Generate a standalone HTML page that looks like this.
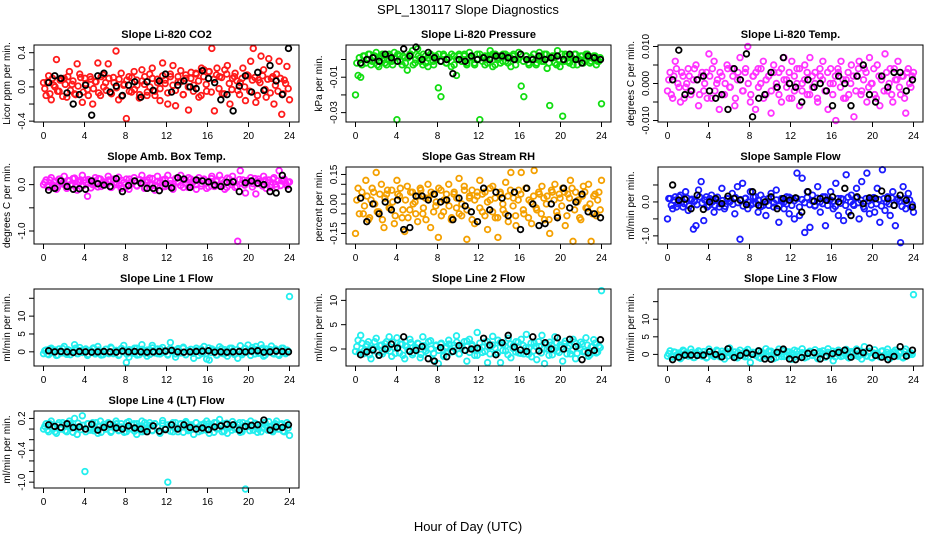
<!DOCTYPE html>
<html><head><meta charset="utf-8"><style>
html,body{margin:0;padding:0;background:#fff;}
svg{display:block;font-family:"Liberation Sans",sans-serif;}
</style></head><body>
<svg id="chart" width="936" height="540" viewBox="0 0 936 540">
<text x="468" y="14" font-size="13" text-anchor="middle">SPL_130117  Slope Diagnostics</text>
<text x="468" y="531" font-size="13" text-anchor="middle">Hour of Day (UTC)</text>
</svg>
<script>
const xTicks=[0,4,8,12,16,20,24];
const co2Vals=[0.05,-0.1,0.13,-0.15,0.02,0.32,-0.05,0.08,0.1,-0.12,0.18,0.03,-0.08,0.27,0.15,-0.18,0.1,-0.03,0.12,-0.2,0.06,0.28,-0.1,0.14,0.05,0.27,-0.07,0.11,0.42,-0.15,0.16,0.02,-0.37,0.12,-0.06,0.18,0.08,-0.13,0.2,0.03,-0.1,0.15,0.22,-0.05,0.09,-0.16,0.28,0.04,-0.2,0.12,0.25,-0.22,0.06,0.19,-0.09,0.1,-0.27,0.17,0.02,0.15,-0.12,0.22,0.2,-0.05,0.18,0.45,-0.28,0.22,0.12,-0.08,0.2,0.25,-0.2,0.1,0.16,-0.04,0.05,0.22,-0.16,0.13,0.3,0.45,-0.18,0.08,0.36,0.2,-0.12,0.33,0.1,-0.2,0.15,0.3,-0.32,0.08,0.24,-0.15];
const co2Core=[-0.02,0.06,-0.08,0.1,0.0,-0.05,0.08,-0.11,0.03,0.12,-0.04,0.07,-0.09,0.01,0.11,-0.06,0.04,-0.1,0.09,-0.02,0.06,-0.07,0.12,0.0,-0.04,0.1,-0.08,0.05,-0.01,0.09,-0.11,0.03,0.08,-0.05,0.11,-0.03,0.02,-0.09,0.07,0.12,-0.06,0.0,0.1,-0.1,0.05,-0.02,0.13,0.08,-0.07,0.15,0.02,-0.04,0.12,0.06,-0.09,0.14,0.0,0.1,-0.05,0.16,0.07,-0.1,0.12,0.03,0.18,-0.06,0.09,0.14,-0.02,0.11,-0.08,0.15,0.04,-0.03,0.12,0.07,-0.09,0.1,0.0,0.14,-0.05,0.08,0.11,-0.1,0.05,0.13,-0.03,0.09,-0.07,0.12,0.02,-0.05,0.1,-0.08,0.04,-0.02];
const co2Black=[0.05,0.13,0.1,-0.07,-0.2,-0.09,0.02,-0.33,0.13,0.16,-0.06,0.01,-0.1,0.02,0.06,-0.12,0.06,-0.04,0.07,0.15,-0.06,0.02,0.07,0,-0.02,0.19,0.1,0.05,-0.15,-0.09,-0.28,0.01,0.13,-0.06,0.17,-0.04,0.25,0.07,-0.09,0.45];
const presVals=[-0.02,-0.009,-0.01,0.002,-0.002,0.003,-0.003,0.001,0.004,-0.004,0.002,0.0,-0.003,0.003,-0.001,0.004,-0.034,0.002,-0.003,0.001,-0.006,0.003,0.005,-0.002,0.006,0.001,-0.003,0.002,-0.004,0.003,-0.001,0.002,-0.016,-0.021,0.003,-0.002,0.001,-0.004,0.002,-0.009,0.003,-0.001,0.002,-0.003,0.004,0.001,-0.002,0.003,-0.034,0.001,-0.003,0.002,0.005,-0.004,0.003,0.001,-0.002,0.003,-0.001,0.002,-0.004,0.003,0.0,0.004,-0.015,-0.021,0.002,-0.003,0.001,0.003,-0.002,0.004,-0.001,0.003,-0.005,-0.026,0.002,-0.002,0.005,-0.004,-0.032,0.003,-0.001,0.002,-0.003,0.003,0.0,0.002,-0.002,0.003,0.001,-0.001,0.002,-0.003,-0.001,-0.025];
const presCore=[-0.002,0.001,-0.003,0.002,0.0,0.003,-0.001,0.002,-0.003,0.001,0.003,-0.002,0.0,0.002,-0.003,0.001,0.003,-0.001,0.002,-0.002,0.001,0.003,-0.003,0.0,0.002,-0.001,0.003,-0.002,0.001,0.002,-0.003,0.0,0.003,-0.001,0.002,-0.002,0.001,0.003,-0.003,0.0,0.002,-0.001,0.003,-0.002,0.001,0.002,-0.003,0.0,0.003,-0.001,0.002,-0.002,0.001,0.003,-0.003,0.0,0.002,-0.001,0.003,-0.002,0.001,0.002,-0.003,0.0,0.003,-0.001,0.002,-0.002,0.001,0.003,-0.003,0.0,0.002,-0.001,0.003,-0.002,0.001,0.002,-0.003,0.0,0.003,-0.001,0.002,-0.002,0.001,0.003,-0.003,0.0,0.002,-0.001,0.003,-0.002,0.001,0.002,-0.001,0.001];
const presBlack=[-0.002,0.0,0.001,-0.001,0.003,0.001,-0.001,0.006,0.002,0.007,0.0,0.004,0.001,-0.001,0.0,-0.008,0.0,-0.001,0.002,0.0,0.001,0.0,0.002,0.002,0.001,0.0,0.003,0.0,0.0,0.002,0.0,0.001,0.002,0.0,0.003,0.0,-0.002,0.002,0.001,0.0];
const tempVals=[-0.002,0.003,-0.004,0.006,0.0,-0.005,0.002,-0.001,0.004,-0.003,0.001,0.005,-0.006,0.002,-0.002,0.003,0.008,-0.004,0.006,0.0,-0.007,0.002,-0.003,0.005,-0.001,0.004,-0.006,0.001,0.007,-0.002,0.003,0.01,-0.005,0.002,-0.007,0.004,0.0,0.006,-0.003,0.002,-0.008,0.005,-0.001,0.003,-0.005,0.007,0.001,-0.004,0.006,-0.002,0.004,-0.006,0.0,0.005,-0.003,0.007,-0.001,0.003,-0.005,0.002,0.006,-0.002,-0.007,0.004,0.0,-0.01,0.003,0.006,-0.004,0.001,-0.003,0.005,-0.009,0.002,0.006,-0.002,0.004,-0.005,0.007,0.0,-0.003,0.005,-0.006,0.002,0.008,-0.002,0.004,-0.005,0.001,0.006,-0.003,0.002,-0.008,0.004,-0.001,0.003];
const tempCore=[0.001,-0.003,0.002,0.004,-0.001,0.003,-0.004,0.0,0.002,-0.002,0.004,0.001,-0.003,0.003,0.0,-0.004,0.002,0.004,-0.002,0.001,0.003,-0.003,0.0,0.004,-0.001,0.002,-0.004,0.003,0.001,-0.002,0.004,0.0,-0.003,0.002,0.003,-0.001,0.004,-0.004,0.001,0.002,-0.002,0.003,0.0,-0.003,0.004,0.001,-0.001,0.003,-0.004,0.002,0.0,0.004,-0.002,0.001,0.003,-0.003,0.002,0.0,-0.004,0.004,0.001,-0.002,0.003,0.0,-0.003,0.002,0.004,-0.001,0.001,-0.004,0.003,0.0,0.002,-0.002,0.004,-0.003,0.001,0.003,-0.001,0.0,0.004,-0.004,0.002,0.001,-0.002,0.003,0.0,-0.003,0.004,0.001,-0.001,0.002,-0.004,0.003,0.0,0.002];
const tempBlack=[0.001,0.009,-0.003,-0.002,0.001,0.002,-0.002,-0.004,-0.003,-0.007,0.004,0.001,0.008,-0.009,-0.004,-0.003,0.003,-0.001,0.007,0.0,-0.001,-0.005,0.001,-0.001,0.0,-0.002,-0.006,0.002,0.0,-0.006,0.002,0.005,-0.003,-0.005,0.002,-0.001,0.003,0.003,-0.002,0.001];
const rhVals=[-0.15,0.08,0.03,-0.05,0.12,-0.08,0.02,0.06,0.16,-0.04,0.1,-0.12,0.05,-0.02,0.07,-0.1,0.12,0.04,-0.07,-0.14,0.09,-0.03,0.06,0.01,-0.09,0.08,-0.05,0.03,0.1,-0.12,0.05,-0.01,-0.17,0.07,-0.04,0.02,0.1,-0.08,0.05,-0.02,0.13,-0.06,0.09,-0.18,0.03,0.07,-0.1,0.04,0.12,-0.04,0.06,-0.13,0.02,0.09,-0.07,-0.17,0.05,-0.03,0.11,-0.09,0.16,0.03,-0.11,0.07,0.16,-0.05,0.08,0.02,-0.1,0.17,-0.03,0.05,0.09,-0.08,0.04,-0.15,0.06,0.1,-0.06,0.03,0.08,-0.11,0.05,0.12,-0.19,0.06,0.02,-0.08,0.09,-0.02,0.1,-0.19,0.04,-0.06,0.06,0.12];
const rhCore=[0.02,-0.05,0.06,-0.01,0.04,-0.07,0.08,0.0,-0.04,0.05,-0.08,0.03,0.07,-0.02,0.01,-0.06,0.05,0.08,-0.03,0.02,-0.07,0.06,0.0,-0.05,0.04,0.07,-0.02,-0.08,0.03,0.06,-0.04,0.01,0.08,-0.06,0.02,0.05,-0.01,-0.07,0.06,0.03,-0.05,0.0,0.07,-0.03,0.04,-0.08,0.02,0.06,-0.02,0.05,-0.06,0.01,0.08,-0.04,0.03,-0.07,0.06,0.0,-0.05,0.04,0.07,-0.01,-0.06,0.02,0.05,-0.03,0.08,-0.07,0.01,0.04,-0.02,0.06,-0.05,0.03,0.0,-0.08,0.07,0.02,-0.04,0.05,-0.01,0.06,-0.06,0.03,0.08,-0.03,0.01,-0.07,0.04,0.06,-0.02,0.0,-0.05,0.05,0.02,-0.03];
const rhBlack=[0.03,-0.09,0.0,-0.05,0.01,-0.03,0.02,-0.13,-0.12,0.04,0.04,0.02,0.05,0.01,0.02,-0.08,0.03,-0.01,-0.04,-0.09,0.08,-0.03,0.06,0.03,-0.06,0.06,-0.13,0.08,0.0,-0.11,-0.1,0.0,-0.07,0.08,-0.02,0.01,0.05,-0.04,-0.05,-0.07];
const ambVals=[0.0,0.1,-0.05,0.15,0.05,-0.1,0.12,0.02,0.18,-0.08,0.08,0.0,0.14,-0.12,0.06,0.2,0.1,-0.25,0.08,0.0,0.15,-0.05,0.12,0.02,0.05,0.18,-0.06,0.1,0.0,0.16,-0.08,0.04,0.12,-0.1,0.06,0.15,-0.02,0.1,0.2,-0.08,0.05,0.14,0.0,-0.12,0.18,0.06,0.1,-0.04,0.2,0.02,-0.1,0.12,0.06,0.2,-0.06,0.1,0.15,-0.02,0.08,-0.1,0.15,0.02,0.12,-0.08,0.06,0.18,-0.04,0.1,0.2,0.0,-0.1,0.14,0.05,0.18,-0.06,-1.22,0.3,0.1,-0.18,0.08,0.15,0.02,-0.2,0.12,0.05,0.18,-0.08,0.1,0.0,0.15,-0.05,0.3,0.08,0.12,-0.02,0.06];
const ambCore=[0.05,-0.03,0.1,0.0,0.07,-0.06,0.12,0.03,-0.02,0.09,0.0,0.13,-0.05,0.06,0.1,-0.02,0.04,0.11,-0.07,0.08,0.02,0.13,-0.04,0.06,0.0,0.1,-0.06,0.12,0.04,-0.01,0.09,0.05,-0.05,0.12,0.02,0.08,-0.03,0.11,0.06,-0.07,0.1,0.01,0.13,-0.02,0.07,0.04,-0.05,0.12,0.0,0.09,-0.04,0.13,0.05,-0.02,0.1,0.03,-0.06,0.12,0.06,0.0,0.09,-0.03,0.11,0.04,-0.05,0.13,0.02,0.07,-0.02,0.1,0.05,-0.06,0.12,0.0,0.08,-0.04,0.11,0.03,-0.01,0.09,0.06,-0.05,0.13,0.02,0.07,-0.03,0.1,0.04,-0.06,0.12,0.01,0.08,-0.02,0.1,0.03,0.05];
const ambBlack=[-0.12,-0.08,0.08,-0.04,-0.1,-0.09,-0.1,0.08,0.02,-0.01,-0.04,0.13,-0.15,-0.02,0.08,0.03,-0.08,-0.08,-0.13,0.02,-0.07,0.15,0.12,-0.06,0.1,0.08,0.06,-0.01,-0.04,0.05,0.06,-0.15,0.04,0.08,0.03,0.0,-0.15,-0.18,0.2,-0.1];
const sampVals=[-0.5,0.1,-0.2,0.15,-0.05,0.2,-0.15,0.3,-0.25,0.05,-0.8,-0.7,0.35,0.6,-0.55,0.15,-0.1,0.2,-0.3,0.05,-0.15,0.4,-0.2,0.1,0.0,0.25,-0.35,0.45,-1.1,0.55,0.1,-0.2,0.3,-0.05,0.15,-0.3,0.2,-0.1,-0.4,0.1,0.25,-0.15,0.35,-0.6,0.05,-0.2,0.15,-0.35,0.1,-0.5,0.85,-0.4,0.7,-0.9,0.3,-0.75,0.2,-0.1,0.45,-0.3,0.15,-0.7,0.05,0.3,-0.2,0.55,-0.4,0.1,-0.55,0.8,-0.3,0.2,-0.1,0.4,-0.5,0.6,-0.2,0.85,-0.35,0.1,-0.3,0.4,-0.6,0.95,-0.25,0.15,-0.4,0.3,-0.7,0.1,-1.2,0.45,-0.2,0.25,-0.15,-0.3];
const sampCore=[0.1,-0.1,0.05,-0.15,0.15,0.0,-0.05,0.12,-0.12,0.08,0.02,-0.08,0.15,-0.03,0.06,-0.15,0.1,0.0,-0.1,0.14,-0.05,0.04,-0.13,0.09,0.02,-0.07,0.13,-0.02,0.07,-0.12,0.11,0.0,-0.09,0.15,-0.04,0.05,-0.14,0.08,0.01,-0.1,0.12,-0.03,0.06,-0.12,0.1,0.0,-0.06,0.14,-0.1,0.04,0.1,-0.15,0.07,-0.02,0.13,-0.08,0.03,-0.12,0.11,0.0,-0.05,0.15,-0.1,0.06,0.02,-0.13,0.1,-0.04,0.08,-0.1,0.14,0.0,-0.07,0.12,-0.02,0.05,-0.14,0.1,0.03,-0.09,0.13,-0.05,0.07,-0.12,0.1,0.0,-0.06,0.12,-0.1,0.05,0.02,-0.13,0.09,-0.03,0.06,-0.08];
const sampBlack=[0.5,0.05,0.08,-0.2,0.2,-0.22,0.0,0.1,-0.05,0.17,0.1,0.05,-0.08,0.3,-0.1,0.0,0.15,-0.2,0.1,0.05,0.12,-0.3,0.3,0.02,0.1,0.05,0.15,0.0,0.4,-0.4,0.15,-0.05,0.12,0.1,0.32,0.1,-0.1,0.2,0.05,-0.15];
const l1Vals=[-0.5,0.5,-0.8,1.0,0.0,-1.0,0.8,-0.3,1.5,-0.7,0.4,0.0,2.0,-0.5,1.2,-0.2,0.6,-1.0,0.3,0.9,-0.6,1.5,0.0,-0.8,0.7,-0.2,1.3,-0.5,0.4,-1.0,0.9,1.8,-3.0,-1.5,0.5,-0.4,1.0,-0.8,2.0,0.2,-1.2,0.6,1.8,-0.3,0.8,-0.6,1.2,0.0,-0.7,2.6,0.5,-1.5,0.9,-0.3,1.3,-0.8,0.4,-0.1,-1.8,1.0,0.3,-0.5,1.5,-2.0,-2.3,0.8,0.0,-0.9,1.4,-0.4,0.6,-1.2,1.0,0.2,-0.6,-1.8,1.7,-0.3,0.9,1.9,-1.0,0.5,1.5,-0.4,2.0,-1.2,0.8,0.0,1.6,-0.6,0.4,-1.0,1.0,-0.2,0.5,15.5];
const l1Core=[0.3,-0.6,0.8,-0.2,0.5,-0.9,0.1,0.9,-0.4,0.6,-0.8,0.2,1.0,-0.5,0.4,-0.1,0.8,-0.7,0.3,1.1,-0.3,0.5,-0.9,0.0,0.7,-0.5,1.0,-0.2,0.4,-0.8,0.9,0.1,-0.6,0.6,-0.3,1.0,-0.9,0.2,0.7,-0.4,0.5,-0.7,1.1,0.0,-0.5,0.8,-0.2,0.3,-0.9,0.9,0.1,-0.6,0.6,-0.3,1.0,-0.8,0.2,0.7,-0.4,0.4,-1.0,0.8,0.0,-0.5,1.1,-0.2,0.5,-0.9,0.3,0.9,-0.6,0.1,-0.3,1.0,-0.7,0.6,0.2,-0.8,0.9,-0.1,0.4,1.2,-0.6,0.7,-0.3,1.0,-0.9,0.2,0.6,-0.4,0.8,-0.7,0.3,1.0,-0.5,0.2];
const l1Black=[0.3,0.0,0.1,0.0,-0.2,0.1,0.0,-0.1,0.0,0.1,0.0,-0.1,0.2,0.0,0.1,0.0,-0.1,0.0,0.1,0.2,0.4,0.0,-0.1,0.0,0.1,0.2,0.3,-0.1,0.0,-0.1,0.0,0.1,0.0,0.2,0.3,-0.1,0.0,0.2,0.1,0.0];
const l2Vals=[-0.5,1.8,2.8,-1.0,0.5,1.5,-2.0,0.0,2.2,-1.3,0.8,-0.5,1.5,2.5,-1.5,0.3,2.3,-0.8,1.0,-2.0,0.5,2.0,-1.2,0.0,1.2,-1.8,2.5,0.4,-0.9,1.7,-2.3,0.6,-3.0,1.0,-1.5,0.2,1.8,-0.6,0.8,2.7,-1.0,0.3,1.5,-2.5,2.0,0.6,-1.3,3.4,0.0,-0.7,1.4,-2.8,0.5,2.6,-1.0,1.8,-2.8,0.9,-0.4,2.2,-1.8,0.7,1.5,-0.8,2.0,-1.0,3.0,0.3,-1.6,1.2,-2.2,0.5,2.8,-3.0,0.0,1.4,-1.2,2.5,-0.4,0.8,-2.5,1.6,0.2,-1.0,2.0,-2.0,0.7,1.4,-0.6,2.3,-1.5,0.4,1.9,-0.8,0.6,12.0];
const l2Core=[0.5,-0.8,1.2,-0.3,0.9,-1.2,0.2,1.5,-0.6,0.7,-1.0,1.1,0.0,-0.5,1.4,-0.9,0.4,1.0,-1.3,0.6,-0.2,1.3,-0.8,0.3,1.1,-1.1,0.7,-0.4,1.5,0.0,-0.9,0.8,-0.3,1.2,-1.2,0.5,1.0,-0.6,0.2,1.4,-1.0,0.6,-0.2,1.6,-0.7,0.9,0.0,-1.3,1.2,0.4,-0.5,1.5,-1.0,0.8,0.2,-0.8,1.3,-0.3,0.6,-1.2,1.0,0.1,-0.6,1.4,-0.9,0.7,0.3,-1.1,1.2,-0.4,0.5,1.5,-0.8,0.0,1.0,-1.3,0.8,-0.2,1.3,-0.7,0.4,1.1,-1.0,0.6,-0.3,1.4,-0.9,0.2,1.0,-0.5,0.8,-1.2,0.5,1.2,-0.6,0.3];
const l2Black=[-1.2,-0.6,-0.2,-1.3,0.0,1.0,0.2,2.5,-0.5,-0.3,0.5,-2.0,-2.5,0.3,-1.6,-0.5,0.7,-0.3,0.0,0.2,2.2,0.8,-1.2,1.3,2.8,0.4,-0.2,-0.5,2.5,-0.4,1.3,0.0,2.3,0.0,2.0,0.5,-2.2,-0.8,-0.3,1.9];
const l3Vals=[-0.5,1.0,-0.8,0.6,0.0,-1.2,1.2,0.3,-0.5,1.5,-0.9,0.4,1.0,-0.3,0.8,-1.0,1.5,0.0,-0.6,1.2,-0.2,0.9,-1.3,0.5,1.8,-0.4,0.7,-1.0,1.2,0.2,-0.7,1.4,-2.3,0.6,-0.3,1.0,-1.1,0.4,1.6,-0.5,0.9,-1.2,0.3,1.5,-0.6,1.0,-0.2,0.7,-1.4,1.2,0.0,-0.5,1.6,-1.0,0.5,0.9,-0.3,1.3,-1.2,0.4,1.0,-0.8,1.6,-0.2,-1.8,0.7,1.2,-0.6,0.3,1.4,-1.0,0.8,-0.4,1.5,0.0,-1.3,2.2,-0.5,0.9,-1.0,1.3,0.2,-0.7,1.0,-0.3,1.5,-1.1,0.6,1.2,-0.5,0.8,-1.0,1.5,-0.2,0.4,17.0];
const l3Core=[0.2,-0.6,0.7,-0.2,0.4,-0.8,0.9,0.0,-0.4,0.6,-0.9,0.3,0.8,-0.5,0.1,-0.8,0.7,0.3,-0.3,0.9,-0.7,0.2,0.5,-0.5,0.8,-0.1,-0.9,0.6,0.2,-0.4,0.9,-0.7,0.3,0.5,-0.2,-0.8,0.7,0.0,-0.5,0.9,-0.3,0.4,-0.9,0.6,0.1,-0.6,0.8,-0.2,0.3,-0.8,0.9,-0.4,0.5,0.0,-0.7,0.7,-0.1,0.4,-0.9,0.8,0.2,-0.5,0.6,-0.3,0.9,-0.7,0.1,0.5,-0.4,0.8,-0.8,0.3,0.6,-0.2,-0.6,0.9,0.0,-0.4,0.7,-0.8,0.4,0.2,-0.5,0.9,-0.3,0.6,-0.9,0.1,0.7,-0.2,0.4,-0.7,0.8,-0.4,0.3,0.0];
const l3Black=[-1.5,-0.8,-0.2,-0.2,-0.3,-0.2,0.8,0.0,-0.7,1.6,-0.9,-0.3,0.4,0.0,1.0,-1.3,-1.4,0.6,1.5,-1.3,-1.5,-0.9,0.3,0.5,-1.3,-0.5,0.2,0.6,1.2,-0.8,1.0,0.5,1.8,-0.3,-0.8,-1.5,-0.6,2.2,-0.5,1.2];
const l4Vals=[0.0,0.1,-0.05,0.15,0.05,-0.08,0.12,0.0,0.08,-0.05,0.15,0.02,0.2,-0.1,0.05,0.25,-0.8,0.1,-0.02,0.12,0.0,-0.08,0.15,0.05,0.0,0.12,-0.06,0.08,0.15,-0.03,0.1,0.02,-0.05,0.14,0.0,0.1,-0.1,0.06,0.15,-0.04,0.08,0.12,-0.02,0.1,0.05,-0.08,0.16,0.0,-1.0,0.08,-0.05,0.12,0.02,0.1,-0.06,0.14,0.0,0.08,-0.1,0.12,0.04,-0.03,0.1,0.15,-0.08,0.06,0.12,0.0,0.18,-0.05,0.1,-0.08,0.04,0.14,0.0,0.08,-0.06,0.12,-1.13,0.05,0.15,-0.02,0.1,0.0,-0.05,0.12,0.06,0.14,-0.03,0.08,0.15,0.0,0.1,-0.05,0.12,-0.12];
const l4Core=[0.05,-0.02,0.1,0.02,-0.05,0.08,0.0,0.12,-0.03,0.06,0.1,-0.06,0.03,0.11,-0.01,0.07,-0.05,0.1,0.02,-0.03,0.12,0.05,-0.06,0.09,0.0,0.11,-0.04,0.06,0.1,-0.02,0.04,-0.06,0.12,0.01,0.08,-0.04,0.1,0.03,-0.05,0.12,0.0,0.07,-0.03,0.1,0.05,-0.06,0.11,0.02,0.08,-0.04,0.12,0.0,-0.05,0.09,0.04,0.11,-0.03,0.06,0.0,0.12,-0.05,0.08,0.02,-0.02,0.1,0.05,-0.06,0.12,0.01,0.07,-0.04,0.11,0.03,-0.02,0.09,0.0,0.12,-0.05,0.06,0.1,-0.03,0.04,0.11,-0.06,0.08,0.02,0.12,-0.02,0.05,-0.05,0.1,0.0,0.08,-0.04,0.06,0.02];
const l4Black=[0.08,0.05,0.03,0.1,0.03,0.04,0.0,0.09,-0.02,0.03,0.09,0.02,0.0,0.06,0.02,0.0,-0.05,0.06,-0.04,-0.01,0.08,0.0,0.08,0.03,0.0,0.02,-0.01,0.04,0.06,0.09,0.08,-0.02,0.05,0.07,0.08,0.17,-0.02,0.04,0.03,0.08];

const svg=document.getElementById('chart');
const NS='http://www.w3.org/2000/svg';
function mk(tag,attrs,parent){const e=document.createElementNS(NS,tag);for(const k in attrs)e.setAttribute(k,attrs[k]);(parent||svg).appendChild(e);return e;}
const colLeft=[34,346,658],rowTop=[45,167,289,411],BW=265,BH=77;
const panels=[
 {t:'Slope Li-820 CO2',yl:'Licor ppm per min.',c:0,r:0,ylim:[-0.41,0.49],ticks:[-0.4,-0.2,0,0.2,0.4],labs:['-0.4','0.0','0.4'],col:'#ff1a1a',v:co2Vals,k:co2Core,b:co2Black},
 {t:'Slope Li-820 Pressure',yl:'kPa per min.',c:1,r:0,ylim:[-0.0353,0.0082],ticks:[-0.03,-0.02,-0.01,0],labs:['-0.03','-0.01'],col:'#11dd11',v:presVals,k:presCore,b:presBlack},
 {t:'Slope Li-820 Temp.',yl:'degrees C per min.',c:2,r:0,ylim:[-0.0104,0.0104],ticks:[-0.01,-0.005,0,0.005,0.01],labs:['-0.010','0.000','0.010'],col:'#ff33ff',v:tempVals,k:tempCore,b:tempBlack},
 {t:'Slope Amb. Box Temp.',yl:'degrees C per min.',c:0,r:1,ylim:[-1.28,0.38],ticks:[-1,-0.5,0],labs:['-1.0','0.0'],col:'#ff22ff',v:ambVals,k:ambCore,b:ambBlack},
 {t:'Slope Gas Stream RH',yl:'percent per min.',c:1,r:1,ylim:[-0.2035,0.188],ticks:[-0.15,-0.1,-0.05,0,0.05,0.1,0.15],labs:['-0.15','0.00','0.15'],col:'#f4a000',v:rhVals,k:rhCore,b:rhBlack},
 {t:'Slope Sample Flow',yl:'ml/min per min.',c:2,r:1,ylim:[-1.24,1.03],ticks:[-1,-0.5,0,0.5],labs:['-1.0','0.0'],col:'#1a1aff',v:sampVals,k:sampCore,b:sampBlack},
 {t:'Slope Line 1 Flow',yl:'ml/min per min.',c:0,r:2,ylim:[-3.97,17.6],ticks:[0,5,10,15],labs:['0','5','10'],col:'#22eeee',v:l1Vals,k:l1Core,b:l1Black},
 {t:'Slope Line 2 Flow',yl:'ml/min per min.',c:1,r:2,ylim:[-3.5,12.34],ticks:[0,5,10],labs:['0','5','10'],col:'#22eeee',v:l2Vals,k:l2Core,b:l2Black},
 {t:'Slope Line 3 Flow',yl:'ml/min per min.',c:2,r:2,ylim:[-3.3,18.6],ticks:[0,5,10,15],labs:['0','5','10'],col:'#22eeee',v:l3Vals,k:l3Core,b:l3Black},
 {t:'Slope Line 4 (LT) Flow',yl:'ml/min per min.',c:0,r:3,ylim:[-1.11,0.34],ticks:[-1,-0.8,-0.6,-0.4,-0.2,0,0.2],labs:['-1.0','-0.4','0.2'],col:'#22eeee',v:l4Vals,k:l4Core,b:l4Black}
];
panels.forEach((p,pi)=>{
 const L=colLeft[p.c],T=rowTop[p.r];
 const g=mk('g',{});
 
 
 const xs=h=>L+9.5+h*(246/24);
 const ys=v=>T+BH*(p.ylim[1]-v)/(p.ylim[1]-p.ylim[0]);
 const tt=mk('text',{x:L+BW/2,y:T-7,'font-size':11,'font-weight':'bold','text-anchor':'middle'},g);tt.textContent=p.t;
 
 
 const n=p.v.length;
 p.v.forEach((v,i)=>{const c=mk('circle',{cx:xs(i*24/(n-1)),cy:ys(v),r:2.8,fill:'none',stroke:p.col,'stroke-width':1.8},g);
  
  });
 const nk=p.k.length;
 p.k.forEach((v,i)=>{const c=mk('circle',{cx:xs((i+0.5)*24/nk),cy:ys(v),r:2.8,fill:'none',stroke:p.col,'stroke-width':1.8},g);
  
  });
 const m=p.b.length;
 p.b.forEach((v,i)=>{const c=mk('circle',{cx:xs(0.5+i*23.4/(m-1)),cy:ys(v),r:2.8,fill:'none',stroke:'#000','stroke-width':1.8},g);
  
  });
 const box=mk('rect',{x:L,y:T,width:BW,height:BH,fill:'none',stroke:'#000','stroke-width':1},g);
 
 
 const B=T+BH;
 mk('line',{x1:xs(0),x2:xs(24),y1:B,y2:B,stroke:'#000'},g);
 xTicks.forEach(h=>{mk('line',{x1:xs(h),x2:xs(h),y1:B,y2:B+5,stroke:'#000'},g);
  const t=mk('text',{x:xs(h),y:B+17,'font-size':10,'text-anchor':'middle'},g);t.textContent=h;
  
  });
 p.ticks.forEach(v=>{mk('line',{x1:L-5,x2:L,y1:ys(v),y2:ys(v),stroke:'#000'},g);});
 p.labs.forEach(s=>{const v=parseFloat(s);const x=L-9,y=ys(v);
  const t=mk('text',{x:x,y:y,'font-size':10,'text-anchor':'middle',transform:`rotate(-90 ${x} ${y})`},g);t.textContent=s;
  
  });
 const yx=L-24,yy=T+BH/2;
 const yt=mk('text',{x:yx,y:yy,'font-size':10,'text-anchor':'middle',transform:`rotate(-90 ${yx} ${yy})`},g);yt.textContent=p.yl;
 
 
});
</script>
</body></html>
